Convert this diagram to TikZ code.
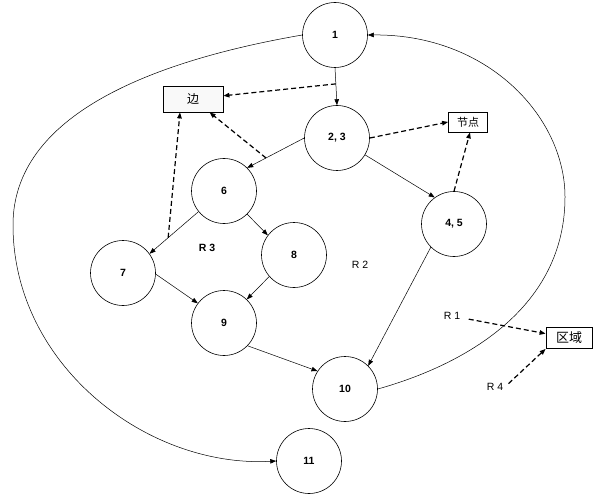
\documentclass[tikz,border=0pt]{standalone}
\usepackage{fontspec}
\setmainfont{Liberation Sans}
\newfontfamily\cjk{Noto Sans CJK SC}
\usetikzlibrary{arrows.meta}
\begin{document}
\begin{tikzpicture}[x=1pt,y=-1pt,
  vert/.style={circle,draw,line width=0.6pt,minimum size=65pt,inner sep=0pt,
    font=\fontsize{10.5}{12}\selectfont\bfseries},
  tagbox/.style={rectangle,draw,line width=0.8pt,inner sep=0pt},
  rlab/.style={font=\fontsize{10.5}{12}\selectfont,inner sep=1.5pt},
  solidarrow/.style={draw,line width=0.5pt,-{Triangle[length=6pt,width=4.5pt]}},
  dashedarrow/.style={draw,line width=1.2pt,dash pattern=on 5pt off 3pt,
    -{Triangle[length=6pt,width=4.5pt]}}
]
\useasboundingbox (0,0) rectangle (593,494);

% vertices
\node[vert] (n1)  at (335,35)  {1};
\node[vert] (n23) at (337,138) {2, 3};
\node[vert] (n6)  at (224,191) {6};
\node[vert] (n7)  at (123,273) {7};
\node[vert] (n8)  at (294,255) {8};
\node[vert] (n9)  at (224,323) {9};
\node[vert] (n45) at (454,224) {4, 5};
\node[vert] (n10) at (345,389) {10};
\node[vert] (n11) at (309,461) {11};

% boxes
\node[tagbox,fill=gray!5,minimum width=60pt,minimum height=26pt,
  font=\cjk\fontsize{12}{14}\selectfont] (bian) at (193,99) {边};
\node[tagbox,minimum width=39pt,minimum height=20pt,
  font=\cjk\fontsize{11}{13}\selectfont] (jd) at (468,122) {节点};
\node[tagbox,minimum width=46pt,minimum height=21pt,
  font=\cjk\fontsize{13}{15}\selectfont] (qy) at (569,338) {区域};

% region labels
\node[rlab,font=\fontsize{10.5}{12}\selectfont\bfseries] (r3) at (207,248) {R 3};
\node[rlab] (r2) at (360,265) {R 2};
\node[rlab] (r1) at (452,316) {R 1};
\node[rlab] (r4) at (495,387) {R 4};

% edges
\draw[solidarrow] (n1.south) -- coordinate[pos=0.43] (e1) (n23.north);
\draw[solidarrow] (n23.west) -- coordinate[pos=0.67] (e2) (n6.45);
\draw[solidarrow] (n23.-31) -- (n45.126);
\draw[solidarrow] (n6.219) -- coordinate[pos=0.62] (e3) (n7.36);
\draw[solidarrow] (n6.-45) -- (n8.143);
\draw[solidarrow] (n7.-2) -- (n9.143);
\draw[solidarrow] (n8.221) -- (n9.46);
\draw[solidarrow] (n9.-44) -- (n10.147);
\draw[solidarrow] (n45.225) -- (n10.45);

% outer curves
\coordinate (lft) at (13,225);
\coordinate (rgt) at (565,197);
\draw[solidarrow] (n1.west) .. controls (152,61) and (13,115) .. (lft)
  .. controls (13,365) and (147,468) .. (n11.west);
\draw[solidarrow] (n10.east) .. controls (467,364) and (565,307) .. (rgt)
  .. controls (565,117) and (488,34) .. (n1.east);

% dashed annotations
\draw[dashedarrow] (e1) -- (bian);
\draw[dashedarrow] (e2) -- (bian);
\draw[dashedarrow] (e3) -- ([xshift=-13pt]bian.south);
\draw[dashedarrow] (n23.east) -- (jd.west);
\draw[dashedarrow] (n45.north) -- ([xshift=2pt]jd.south);
\draw[dashedarrow,shorten <=7pt] (r1) -- (qy);
\draw[dashedarrow,shorten <=5pt] (r4.east) -- (qy.south west);
\end{tikzpicture}
\end{document}
